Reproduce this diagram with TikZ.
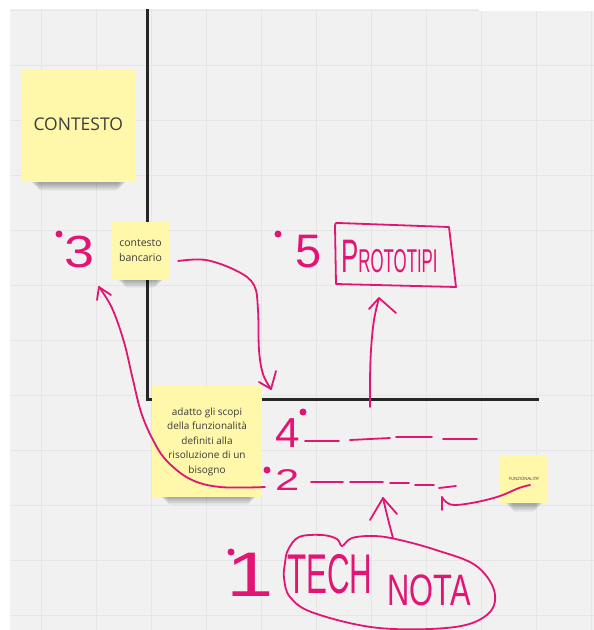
\documentclass[tikz,border=0pt]{standalone}
\usepackage{fontspec}
\setmainfont{Open Sans}
\newfontfamily\handfont{Liberation Sans}
\usetikzlibrary{calc}
\definecolor{paper}{HTML}{F1F1F1}
\definecolor{gridline}{HTML}{E5E5E5}
\definecolor{sticky}{HTML}{FFF7A9}
\definecolor{ink}{RGB}{226,20,116}
\definecolor{axisline}{HTML}{262626}
\definecolor{notetext}{HTML}{3C3C3C}
\newcommand\inksize[1]{\fontsize{#1}{#1}\selectfont}
% soft shadow under the lower edge of a sticky note: left x, right x, bottom y
\newcommand\noteshadow[3]{%
  \foreach \k in {0,...,5}{%
    \fill[black,opacity=0.06,rounded corners=3pt]
      (#1+5+\k*1.5,#3-5) rectangle (#2-5-\k*1.5,#3+1.5+\k*1.4);}}
\begin{document}
\begin{tikzpicture}[x=1pt,y=-1pt,
  pen/.style={draw=ink, line width=1.8pt, line cap=round, line join=round},
  hand/.style={text=ink, inner sep=0pt, anchor=base west},
  stickynote/.style={fill=sticky, inner sep=2pt, text=notetext, align=center},
  inkdot/.style={circle, fill=ink, inner sep=0pt, minimum size=7pt},
]
\useasboundingbox (0,0) rectangle (594,630);

% board and grid
\fill[white] (0,0) rectangle (594,630);
\fill[paper] (10,9) rectangle (594,630);
\foreach \gx in {41.5,96.5,...,591.5}
  \draw[gridline,line width=0.9pt] (\gx,9) -- (\gx,630);
\foreach \gy in {10,65,...,615}
  \draw[gridline,line width=0.9pt] (10,\gy) -- (594,\gy);
\fill[white] (479,0) rectangle (594,11);

% axes
\coordinate (axtop) at (147,9);
\coordinate (origin) at (147,399);
\coordinate (axright) at (539,399);
\draw[axisline, line width=3pt] (axtop) -- (origin) -- (axright);

% sticky notes
\noteshadow{26}{131}{182}
\node[stickynote, minimum width=112.5pt, minimum height=112pt,
      font=\fontsize{17.5}{20}\selectfont] (contesto) at (78.25,126) {\raisebox{3pt}{CONTESTO}};
\noteshadow{112}{169}{279}
\node[stickynote, minimum width=57pt, minimum height=58pt,
      font=\fontsize{10.5}{15}\selectfont] (bancario) at (140.5,251) {contesto\\bancario};
\noteshadow{155}{262}{496}
\node[stickynote, minimum width=110pt, minimum height=111pt,
      font=\fontsize{10}{14.5}\selectfont] (adatto) at (207,441.5)
      {adatto gli scopi\\della funzionalità\\definiti alla\\risoluzione di un\\bisogno};
\noteshadow{500}{548}{503}
\node[stickynote, minimum width=48pt, minimum height=48pt,
      font=\fontsize{4.3}{5}\selectfont] (funz) at (524,479) {FUNZIONALITA'};

% step markers
\node[inkdot] (d3) at (59,234) {};
\node[inkdot] (d5) at (278,234) {};
\node[inkdot] (d4) at (303,412) {};
\node[inkdot] (d2) at (267,470) {};
\node[inkdot] (d1) at (231,552) {};
\node[hand, font=\handfont\inksize{45}] (n3) at (64,267) {\scalebox{1.2}[1]{3}};
\node[hand, font=\handfont\inksize{47}] (n5) at (295,267) {5};
\node[hand, font=\handfont\inksize{42}] (n4) at (275,447) {\scalebox{1.05}[1]{4}};
\node[hand, font=\handfont\inksize{30}] (n2) at (275,490) {\scalebox{1.45}[1]{2}};
\node[hand, font=\handfont\inksize{63}] (n1) at (226,596) {\scalebox{1.35}[1]{1}};

% handwritten labels
\draw[pen] (335,226) .. controls (335,223) .. (339,223) -- (449,227) -- (456,287) -- (336,284) -- cycle;
\node[hand, font=\handfont] (proto) at (341,272)
  {\scalebox{0.55}[1]{\inksize{47}P}\scalebox{0.51}[1]{\inksize{33}ROTOTIPI}};
\draw[pen] plot[smooth cycle, tension=0.6] coordinates {
  (288,550) (299,537) (322,535) (337,539) (342,546) (352,538) (375,536)
  (400,540) (436,550) (475,565) (494,590) (489,613) (455,627) (379,628)
  (314,613) (290,597) (284,578) (285,563)};
\node[hand, font=\handfont] (tech) at (287,593)
  {\scalebox{0.56}[1]{\inksize{56}TECH}\hspace{15pt}\raisebox{-12pt}{\scalebox{0.7}[1]{\inksize{44}NOTA}}};

% dashed lines of steps 4 and 2
\draw[pen] (305,441) -- (339,441);
\draw[pen] (350,440) -- (390,438);
\draw[pen] (396,437) -- (432,437);
\draw[pen] (443,439) -- (477,439);
\draw[pen] (311,482) -- (343,482);
\draw[pen] (350,482) -- (383,482);
\draw[pen] (390,483) -- (409,483);
\draw[pen] (415,485) -- (434,485);
\draw[pen] (439,488) -- (456,486);

% arrows
\coordinate (bancarioOut) at ($(bancario.east)+(9,10)$);
\coordinate (originIn) at (271,389);
\draw[pen] plot[smooth, tension=0.6] coordinates {
  (bancarioOut) (206,260) (237,271) (254,285) (258,310) (259,350) (263,374) (originIn)};
\draw[pen] (259,382) -- (originIn) -- (276,371);

\coordinate (twoOut) at (265,487);
\coordinate (threeIn) at (99,287);
\draw[pen] plot[smooth, tension=0.6] coordinates {
  (twoOut) (220,487) (190,479) (166,460) (152,438) (141,412) (133,380)
  (124,342) (112,308) (threeIn)};
\draw[pen] (97,300) -- (threeIn) -- (111,295);

\coordinate (axisOut) at (370,407);
\coordinate (protoIn) at (379,298);
\draw[pen] plot[smooth, tension=0.6] coordinates {
  (axisOut) (370,380) (371,350) (374,320) (protoIn)};
\draw[pen] (369,309) -- (protoIn) -- (396,313);

\coordinate (cloudOut) at (393,538);
\coordinate (dashIn) at (383,498);
\draw[pen] plot[smooth, tension=0.6] coordinates {(cloudOut) (388,519) (dashIn)};
\draw[pen] (370,520) -- (dashIn) -- (397,514);

\coordinate (funzOut) at (530,485);
\coordinate (dashEnd) at (442,497);
\draw[pen] plot[smooth, tension=0.6] coordinates {
  (funzOut) (519,488) (500,496) (477,502) (455,505) (446,502) (dashEnd)};
\draw[pen] (dashEnd) -- (442,510);
\end{tikzpicture}
\end{document}
